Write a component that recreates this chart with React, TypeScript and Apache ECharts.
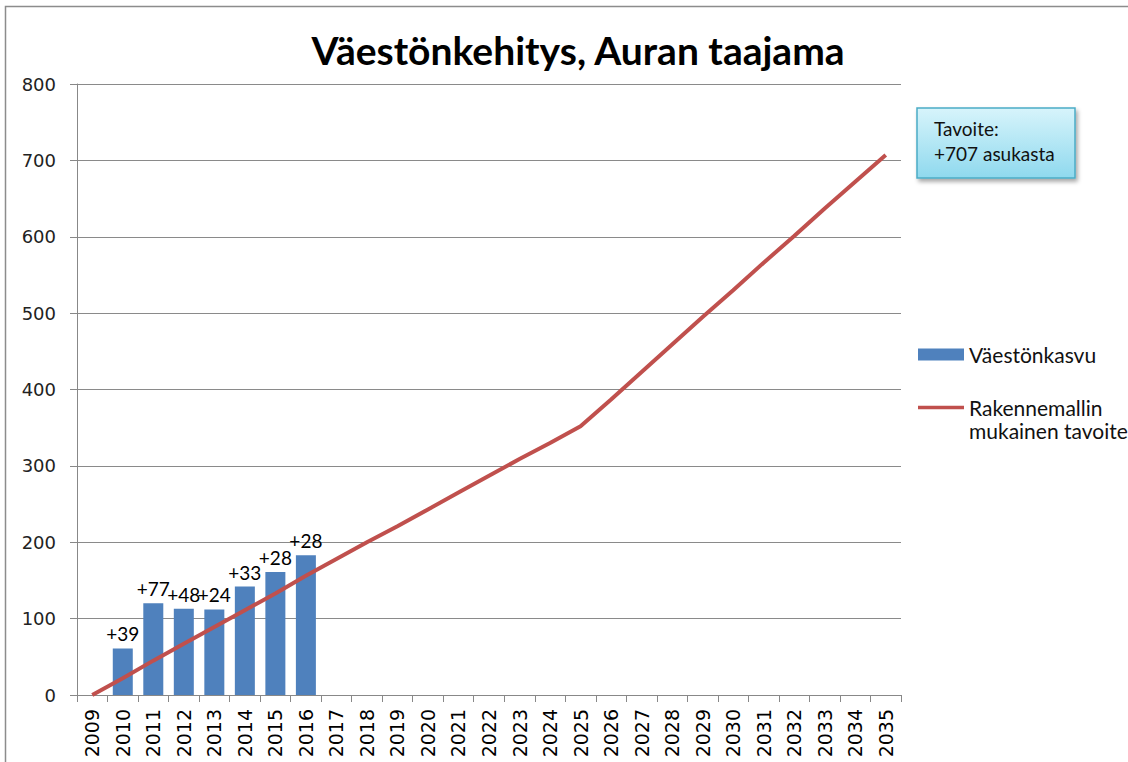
import React, { useEffect, useRef } from "react";
import * as echarts from "echarts";

const years = [
  "2009", "2010", "2011", "2012", "2013", "2014", "2015", "2016", "2017",
  "2018", "2019", "2020", "2021", "2022", "2023", "2024", "2025", "2026",
  "2027", "2028", "2029", "2030", "2031", "2032", "2033", "2034", "2035",
];

const barValues: (number | null)[] = [
  null, 61, 120, 113, 112, 142, 161, 183, null, null, null, null, null, null,
  null, null, null, null, null, null, null, null, null, null, null, null, null,
];

const barLabels = ["", "+39", "+77", "+48", "+24", "+33", "+28", "+28"];

const lineValues = [
  0, 22, 45, 67, 89, 111, 133, 156, 178, 200, 221, 243, 265, 287, 309, 330,
  352, 387, 423, 459, 495, 530, 566, 601, 637, 672, 707,
];

const yTicks = { min: 0, max: 800, interval: 100 };

const titleText = "Väestönkehitys, Auran taajama";
const barName = "Väestönkasvu";
const lineName = "Rakennemallin\nmukainen tavoite";
const noteText = "Tavoite:\n+707 asukasta";

export default function App() {
  const ref = useRef<HTMLDivElement>(null);

  useEffect(() => {
    if (!ref.current) return;
    const chart = echarts.init(ref.current, null, { renderer: "svg" });
    chart.setOption({
      animation: false,
      backgroundColor: "#ffffff",
      title: {
        text: titleText,
        left: 573,
        top: 25,
        textAlign: "center",
        textStyle: {
          fontFamily: "Lato",
          fontWeight: "bold",
          fontSize: 39,
          color: "#000000",
        },
      },
      legend: {
        orient: "vertical",
        left: 913,
        top: 338,
        itemWidth: 46,
        itemHeight: 12,
        itemGap: 7,
        selectedMode: false,
        formatter: (name: string) => (name === lineName ? "\n" + name : name),
        textStyle: {
          fontFamily: "Lato",
          fontSize: 21,
          lineHeight: 23,
          color: "#111111",
        },
        data: [
          { name: barName, icon: "rect" },
          { name: lineName, icon: "path://M0,0 L46,0 L46,3.5 L0,3.5 Z" },
        ],
      },
      grid: { left: 77, right: 227, top: 84, bottom: 67, containLabel: false },
      xAxis: {
        type: "category",
        data: years,
        boundaryGap: true,
        axisLine: { show: true, lineStyle: { color: "#888888", width: 1 } },
        axisTick: {
          show: true,
          alignWithLabel: false,
          length: 7,
          lineStyle: { color: "#888888" },
        },
        axisLabel: {
          interval: 0,
          rotate: 90,
          margin: 14,
          fontFamily: "DejaVu Sans",
          fontSize: 19,
          color: "#000000",
        },
        splitLine: { show: false },
      },
      yAxis: {
        type: "value",
        min: yTicks.min,
        max: yTicks.max,
        interval: yTicks.interval,
        axisLine: { show: true, lineStyle: { color: "#888888", width: 1 } },
        axisTick: { show: true, length: 7, lineStyle: { color: "#888888" } },
        axisLabel: {
          margin: 21,
          fontFamily: "DejaVu Sans",
          fontSize: 18,
          color: "#222222",
        },
        splitLine: { show: true, lineStyle: { color: "#8a8a8a", width: 1 } },
      },
      series: [
        {
          name: barName,
          type: "bar",
          data: barValues,
          barWidth: 20,
          itemStyle: { color: "#4f81bd" },
          label: {
            show: true,
            position: "top",
            distance: 5,
            fontFamily: "Lato",
            fontSize: 19,
            color: "#000000",
            formatter: (p: any) => barLabels[p.dataIndex] || "",
          },
          z: 2,
        },
        {
          name: lineName,
          type: "line",
          data: lineValues,
          symbol: "none",
          lineStyle: { color: "#c0504d", width: 4 },
          itemStyle: { color: "#c0504d" },
          z: 3,
        },
      ],
      graphic: [
        {
          type: "rect",
          shape: { x: 5.5, y: 6.5, width: 1130, height: 770 },
          style: { fill: "none", stroke: "#8c8c8c", lineWidth: 1.5 },
          silent: true,
          z: -1,
        },
        {
          type: "group",
          children: [
            {
              type: "rect",
              shape: { x: 917, y: 108, width: 158, height: 70 },
              style: {
                fill: new echarts.graphic.LinearGradient(0, 0, 0, 1, [
                  { offset: 0, color: "#d7f4fb" },
                  { offset: 1, color: "#8fd9ee" },
                ]),
                stroke: "#4bacc6",
                lineWidth: 1.5,
                shadowBlur: 4,
                shadowOffsetX: 2,
                shadowOffsetY: 3,
                shadowColor: "rgba(0,0,0,0.35)",
              },
            },
            {
              type: "text",
              x: 934,
              y: 116,
              style: {
                text: noteText,
                fontFamily: "Lato",
                fontSize: 19,
                lineHeight: 25,
                fill: "#111111",
              },
            },
          ],
        },
      ],
    });
    return () => chart.dispose();
  }, []);

  return (
    <div
      ref={ref}
      style={{ position: "absolute", left: 0, top: 0, width: 1128, height: 762 }}
    />
  );
}
